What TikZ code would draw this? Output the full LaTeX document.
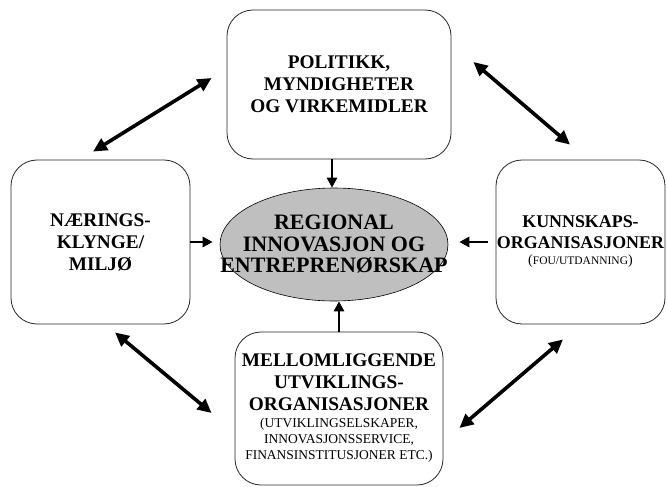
\documentclass[tikz,border=0pt]{standalone}
\usepackage{fontspec}
\setmainfont{Liberation Serif}
\usetikzlibrary{arrows.meta,positioning,calc,shapes.geometric}

\begin{document}
\begin{tikzpicture}[x=1pt,y=-1pt]
  \tikzset{box/.style={draw=black!85, line width=0.8pt, rounded corners=26pt, inner sep=0pt,
      align=center, font=\fontsize{19.3}{22}\selectfont\bfseries},
    dbl/.style={{Triangle[length=14pt,width=13pt]}-{Triangle[length=14pt,width=13pt]}, line width=3.6pt},
    sgl/.style={-{Triangle[length=10pt,width=10pt]}, line width=2.8pt}}
  \useasboundingbox (0,0) rectangle (667,487);
  % the four actors
  \node[box, minimum width=224pt, minimum height=149pt] (politikk) at (339,84.5)
    {POLITIKK,\\MYNDIGHETER\\OG VIRKEMIDLER};
  \node[box, minimum width=179pt, minimum height=164pt] (klynge) at (100.5,242)
    {NÆRINGS-\\KLYNGE/\\MILJØ};
  \node[box, minimum width=169pt, minimum height=164pt, font=\fontsize{17.9}{21}\selectfont\bfseries]
    (kunnskap) at (580.5,242)
    {KUNNSKAPS-\\ORGANISASJONER\\[-5pt]{\mdseries\fontsize{14}{16}\selectfont(\fontsize{11.5}{16}\selectfont FOU/UTDANNING\fontsize{14}{16}\selectfont)}};
  \node[box, minimum width=208pt, minimum height=153pt] (mellom) at (339,408.5)
    {MELLOMLIGGENDE\\UTVIKLINGS-\\ORGANISASJONER\\[-5pt]
     {\mdseries\fontsize{13.5}{16}\selectfont (UTVIKLINGSELSKAPER,}\\[-6pt]
     {\mdseries\fontsize{13.5}{16}\selectfont INNOVASJONSSERVICE,}\\[-6pt]
     {\mdseries\fontsize{13.5}{16}\selectfont FINANSINSTITUSJONER ETC.)}};
  % centre
  \node[draw, ellipse, fill=black!25, line width=0.6pt, minimum width=228pt, minimum height=113pt,
    inner sep=0pt] (inno) at (334,244.5) {};
  \node[align=center, font=\fontsize{22}{21.5}\selectfont\bfseries] (innotext) at (inno.center)
    {REGIONAL\\INNOVASJON OG\\ENTREPRENØRSKAP};
  % links into the centre
  \draw[sgl] ([xshift=-7pt]politikk.south) -- ([xshift=-2pt]inno.north);
  \draw[sgl, shorten >=7pt] (klynge.east) -- (klynge.east -| inno.west);
  \draw[sgl, shorten <=8pt, shorten >=11pt] (kunnskap.west) -- (kunnskap.west -| inno.east);
  \draw[sgl] (mellom.north) -- (mellom.north |- inno.south);
  % links between the actors
  \draw[dbl] ([xshift=-7.5pt,yshift=8pt]klynge.north) -- ([xshift=-15pt,yshift=6.5pt]politikk.west);
  \draw[dbl] ([xshift=22pt,yshift=22.5pt]politikk.east) -- ([xshift=-10.5pt,yshift=15pt]kunnskap.north);
  \draw[dbl] ([xshift=14.5pt,yshift=-8pt]klynge.south) -- ([xshift=-23pt,yshift=-4.5pt]mellom.west);
  \draw[dbl] ([xshift=16pt,yshift=-19.5pt]mellom.east) -- ([xshift=-17.5pt,yshift=-15pt]kunnskap.south);
\end{tikzpicture}
\end{document}
